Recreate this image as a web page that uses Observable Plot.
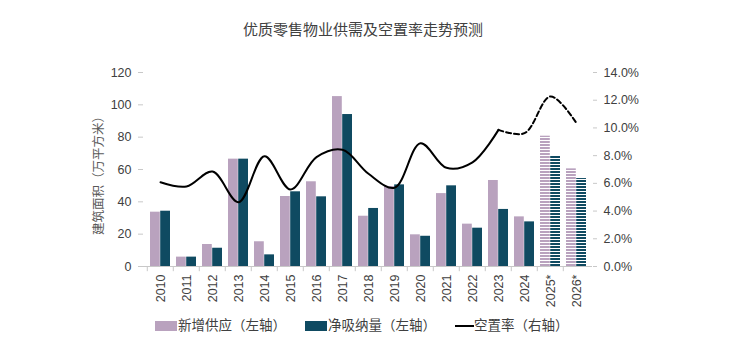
<!DOCTYPE html>
<html>
<head>
<meta charset="utf-8">
<script src="https://cdn.jsdelivr.net/npm/d3@7"></script>
<script src="https://cdn.jsdelivr.net/npm/@observablehq/plot@0.6"></script>
<style>
  html, body { margin: 0; padding: 0; background: #fff; }
  body { font-family: "Liberation Sans", Arial, "Noto Sans CJK SC", sans-serif; }
  #wrap { position: relative; width: 744px; height: 364px; overflow: hidden; }
  #title { position: absolute; left: 0; top: 20px; width: 726px; text-align: center; font-size: 15px; line-height: 20px; color: #404040; font-family: "Liberation Sans", "Noto Sans CJK SC", sans-serif; }
  #chart { position: absolute; left: 0; top: 48px; }
  .lg { position: absolute; top: 317px; font-size: 13.5px; line-height: 18px; color: #404040; font-family: "Liberation Sans", "Noto Sans CJK SC", sans-serif; white-space: nowrap; }
  .sw { position: absolute; }
</style>
</head>
<body>
<div id="wrap">
  <div id="title">优质零售物业供需及空置率走势预测</div>
  <div id="chart"></div>
  <div id="legend"></div>
</div>
<script>
const years = ["2010","2011","2012","2013","2014","2015","2016","2017","2018","2019","2020","2021","2022","2023","2024","2025*","2026*"];
const supply = [33.6, 5.8, 13.6, 66.4, 15.3, 43.3, 52.4, 105.1, 31.1, 49.5, 19.6, 45.1, 26.2, 53.2, 30.7, 80.6, 60.4];
const absorption = [34.2, 5.8, 11.3, 66.4, 7.2, 46.2, 43.1, 94.0, 35.9, 50.5, 18.7, 49.9, 23.7, 35.3, 27.6, 68.5, 54.4];
const vacancy = [6.08, 5.77, 6.85, 4.64, 7.96, 5.56, 7.89, 8.42, 6.69, 5.68, 8.90, 7.12, 7.52, 9.86, 9.62, 12.27, 10.34];
const leftTicks = [0, 20, 40, 60, 80, 100, 120];
const rightTicks = [0, 2, 4, 6, 8, 10, 12, 14];
const seriesNames = ["新增供应（左轴）", "净吸纳量（左轴）", "空置率（右轴）"];
const yLabel = "建筑面积（万平方米）";
const title = "优质零售物业供需及空置率走势预测";
const lastActual = "2023"; // vacancy line is solid through this year, dashed after

const PINK = "#b9a2be", NAVY = "#0f4a61";
const LMAX = 120, RMAX = 14, k = LMAX / RMAX;

const rows = years.map((year, i) => ({year, supply: supply[i], absorption: absorption[i], vacancy: vacancy[i], forecast: year.endsWith("*")}));
const actual = rows.filter(d => !d.forecast);
const fc = rows.filter(d => d.forecast);
const cut = years.indexOf(lastActual);
const solidLine = rows.slice(0, cut + 1);
const dashLine = rows.slice(cut);

document.getElementById("title").textContent = title;

const width = 744, height = 264;
const marginLeft = 143, marginRight = 152, marginTop = 24, marginBottom = 46;
const bw = (width - marginLeft - marginRight) / years.length;
const gap = 3, inner = bw / 2;

const svg = Plot.plot({
  width, height, marginLeft, marginRight, marginTop, marginBottom,
  style: {fontSize: "12.5px", fontFamily: "'Liberation Sans', Arial, 'Noto Sans CJK SC', sans-serif", background: "#fff", overflow: "visible"},
  x: {type: "band", domain: years, padding: 0, axis: null},
  y: {domain: [0, LMAX], axis: null},
  marks: [
    Plot.barY(actual, {x: "year", y: "supply", fill: PINK, insetLeft: gap, insetRight: inner}),
    Plot.barY(actual, {x: "year", y: "absorption", fill: NAVY, insetLeft: inner, insetRight: gap}),
    Plot.barY(fc, {x: "year", y: "supply", fill: "url(#pinkStripe)", insetLeft: gap, insetRight: inner}),
    Plot.barY(fc, {x: "year", y: "absorption", fill: "url(#navyStripe)", insetLeft: inner, insetRight: gap}),
    Plot.ruleY([0], {stroke: "#c8c8c8"}),
    Plot.ruleX(years, {x: d => d, dx: -bw / 2, y1: 0, y2: -3.2, stroke: "#c8c8c8"}),
    Plot.axisY(leftTicks, {anchor: "left", tickSize: 5, tickPadding: 7, line: true, stroke: "#c8c8c8", fill: "#404040", label: null}),
    Plot.axisY(rightTicks.map(v => v * k), {anchor: "right", tickSize: 4, tickPadding: 7, line: true, stroke: "#c8c8c8", fill: "#404040", label: null, tickFormat: d => (d / k).toFixed(1) + "%"}),
    Plot.axisX({anchor: "bottom", tickRotate: -90, tickSize: 0, tickPadding: 8, fill: "#404040", label: null}),
    Plot.text([yLabel], {frameAnchor: "left", text: d => d, rotate: -90, textAnchor: "middle", dx: -45, dy: 3, fill: "#595959", fontSize: 12.5}),
    Plot.line(solidLine, {x: "year", y: d => d.vacancy * k, curve: "catmull-rom", stroke: "#000", strokeWidth: 2}),
    Plot.line(dashLine, {x: "year", y: d => d.vacancy * k, curve: "catmull-rom", stroke: "#000", strokeWidth: 2, strokeDasharray: "5,3"})
  ]
});
svg.insertAdjacentHTML("afterbegin",
  `<defs>
     <pattern id="pinkStripe" patternUnits="userSpaceOnUse" width="6" height="3"><rect width="6" height="3" fill="#fff"/><rect width="6" height="2" fill="${PINK}"/></pattern>
     <pattern id="navyStripe" patternUnits="userSpaceOnUse" width="6" height="3"><rect width="6" height="3" fill="#fff"/><rect width="6" height="2" fill="${NAVY}"/></pattern>
   </defs>`);
document.getElementById("chart").appendChild(svg);

// legend
const lg = document.getElementById("legend");
const items = [
  {x: 155, type: "rect", color: PINK, text: seriesNames[0], tx: 178},
  {x: 305, type: "rect", color: NAVY, text: seriesNames[1], tx: 328},
  {x: 455, type: "line", color: "#000", text: seriesNames[2], tx: 474}
];
for (const it of items) {
  const sw = document.createElement("div");
  sw.className = "sw";
  if (it.type === "rect") {
    Object.assign(sw.style, {left: it.x + "px", top: "321px", width: "22px", height: "10px", background: it.color});
  } else {
    Object.assign(sw.style, {left: it.x + "px", top: "325px", width: "19px", height: "2px", background: it.color});
  }
  lg.appendChild(sw);
  const t = document.createElement("div");
  t.className = "lg";
  t.style.left = it.tx + "px";
  t.textContent = it.text;
  lg.appendChild(t);
}
</script>
</body>
</html>
